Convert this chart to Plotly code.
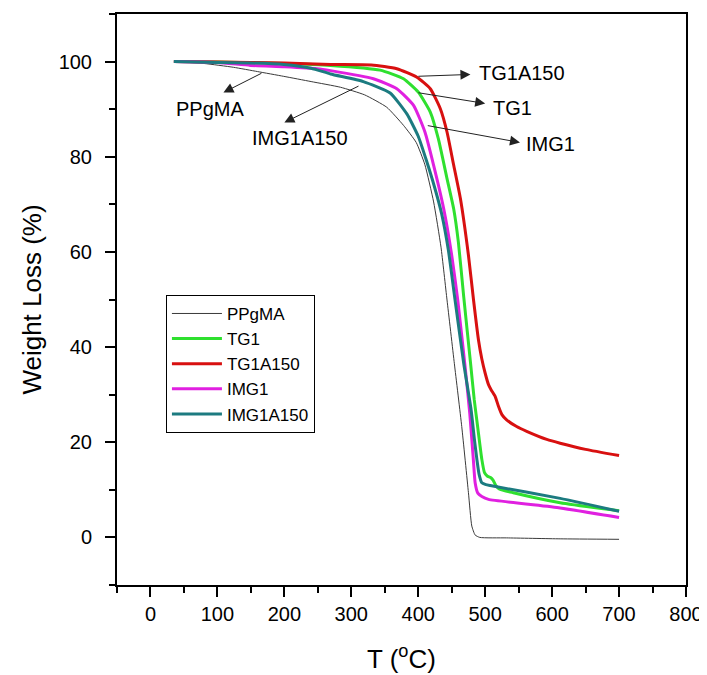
import plotly.graph_objects as go

# ---- data ----
ppgma_T = [35, 80, 124, 160, 199, 240, 284, 320, 353, 378, 397, 410, 423, 434, 443, 454, 465, 475, 480, 485, 492, 532, 612, 700]
ppgma_W = [100, 99.6, 98.8, 97.9, 96.9, 95.8, 94.6, 93.0, 90.4, 86.6, 83.0, 78.3, 70.5, 61.0, 49.9, 36.5, 23.3, 9.4, 2.4, 0.5, 0.0, -0.1, -0.3, -0.4]

tg1_T = [35, 100, 200, 269, 343, 378, 400, 418, 430, 443, 453, 460, 468, 478.6, 483.6, 489, 495, 499, 503, 508, 512, 516, 521, 542, 612, 700]
tg1_W = [100, 99.9, 99.6, 99.2, 98.2, 96.4, 93.6, 89.4, 83.8, 75.4, 69.0, 62.0, 50.5, 36.0, 29.0, 23.0, 16.4, 13.6, 12.9, 12.6, 12.0, 10.9, 10.2, 9.4, 7.3, 5.6]

tg1a150_T = [35, 100, 200, 269, 330, 368, 398, 418, 433, 443, 453, 463, 475, 482.6, 490, 495, 500, 505, 509, 515, 520, 525, 532, 547, 562, 592, 612, 650, 700]
tg1a150_W = [100, 99.9, 99.7, 99.4, 99.3, 98.5, 96.7, 94.3, 90.1, 85.2, 78.2, 71.2, 59.3, 49.9, 41.5, 37.5, 34.5, 32.1, 31.0, 29.6, 27.5, 25.8, 24.7, 23.3, 22.3, 20.6, 19.8, 18.5, 17.2]

img1_T = [35, 100, 149, 200, 249, 269, 333, 368, 393, 410, 423, 438, 450, 459, 470, 477, 482, 485, 489, 495, 505, 612, 700]
img1_W = [100, 99.8, 99.2, 98.9, 98.5, 98.1, 96.4, 94.3, 90.8, 85.2, 78.2, 69.1, 59.3, 49.9, 35.9, 26.0, 17.0, 11.5, 9.3, 8.6, 8.0, 6.2, 4.2]

img1a150_T = [35, 100, 150, 199, 240, 269, 318, 358, 383, 400, 412, 424, 435, 445, 455, 468, 479, 484, 487.6, 491, 495, 501, 507.5, 612, 700]
img1a150_W = [100, 99.8, 99.7, 99.4, 98.6, 97.4, 95.8, 93.4, 89.0, 84.3, 79.3, 73.8, 68.0, 60.4, 49.9, 36.5, 26.8, 20.5, 16.4, 13.2, 11.5, 11.1, 10.9, 8.2, 5.5]

series_names = ["PPgMA", "TG1", "TG1A150", "IMG1", "IMG1A150"]
series_T = [ppgma_T, tg1_T, tg1a150_T, img1_T, img1a150_T]
series_W = [ppgma_W, tg1_W, tg1a150_W, img1_W, img1a150_W]
colors = ["#3a3a3a", "#2fe02f", "#d81010", "#e020e0", "#1c7b80"]
widths = [1, 3, 3, 3, 3]

x_ticks = [0, 100, 200, 300, 400, 500, 600, 700, 800]
x_minor = [-50, 50, 150, 250, 350, 450, 550, 650, 750]
y_ticks = [0, 20, 40, 60, 80, 100]
y_minor = [-10, 10, 30, 50, 70, 90, 110]

# annotation labels: (label, tail_T, tail_W, head_T, head_W, text_T, text_W)
labels = [
    ("TG1A150", 398, 96.9, 478, 97.3, 555, 97.7),
    ("TG1", 398, 93.5, 500, 91.2, 541, 90.2),
    ("IMG1", 412, 86.6, 552, 83.0, 598, 82.6),
    ("PPgMA", 168, 97.7, 109, 93.5, 89, 90.1),
    ("IMG1A150", 313, 95.0, 200, 87.2, 224, 83.9),
]

FONT = "Liberation Sans, Arial, sans-serif"

fig = go.Figure()
for n, t, w, c, lw in zip(series_names, series_T, series_W, colors, widths):
    fig.add_trace(go.Scatter(x=t, y=w, mode="lines", name=n,
                             line=dict(color=c, width=lw, shape="spline", smoothing=0.5)))

for lab, tx, ty, hx, hy, lx, ly in labels:
    fig.add_annotation(x=hx, y=hy, ax=tx, ay=ty, xref="x", yref="y", axref="x", ayref="y",
                       text="", showarrow=True, arrowhead=2, arrowsize=2.0, arrowwidth=1,
                       arrowcolor="#222222")
    fig.add_annotation(x=lx, y=ly, xref="x", yref="y", text=lab, showarrow=False,
                       font=dict(size=20, color="black", family=FONT))

axis_common = dict(showline=True, linecolor="black", linewidth=2, mirror=True,
                   ticks="outside", ticklen=10, tickwidth=2, tickcolor="black",
                   showgrid=False, zeroline=False, automargin=False,
                   tickfont=dict(size=20, color="black", family=FONT))

fig.update_xaxes(range=[-50, 800], tickvals=x_ticks,
                 minor=dict(tickvals=x_minor, ticklen=6, tickwidth=2, tickcolor="black", ticks="outside"),
                 title=dict(text="T (<sup>o</sup>C)", font=dict(size=26, color="black", family=FONT), standoff=26),
                 **axis_common)
fig.update_yaxes(range=[-10, 110], tickvals=y_ticks, ticklabelstandoff=9,
                 minor=dict(tickvals=y_minor, ticklen=6, tickwidth=2, tickcolor="black", ticks="outside"),
                 title=dict(text="Weight Loss (%)", font=dict(size=26, color="black", family=FONT), standoff=10),
                 **axis_common)

fig.update_layout(
    width=699, height=667,
    margin=dict(l=109, r=21, t=6, b=90),
    paper_bgcolor="white", plot_bgcolor="white",
    showlegend=True,
    legend=dict(x=0.086, y=0.508, xanchor="left", yanchor="top",
                bordercolor="black", borderwidth=1, bgcolor="white",
                font=dict(size=17, color="black", family=FONT),
                tracegroupgap=0, itemwidth=50),
)

fig.write_html("out.html")
